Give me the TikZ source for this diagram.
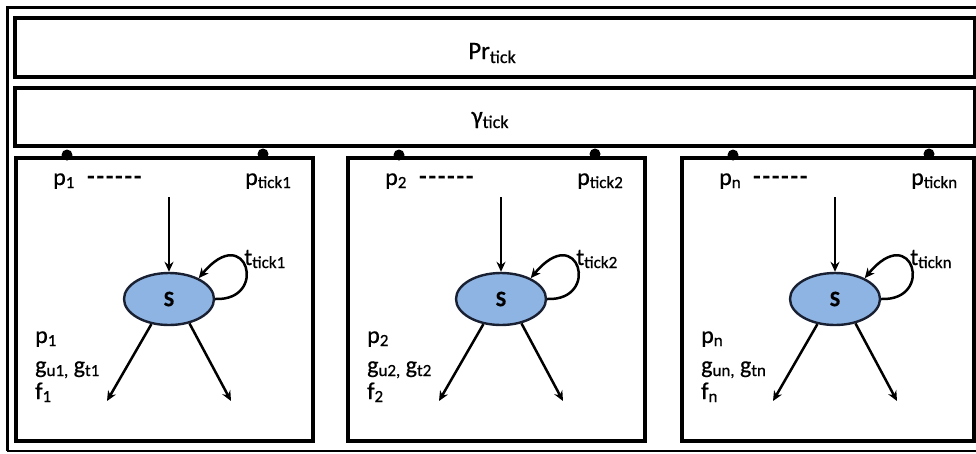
\documentclass[tikz,border=0pt]{standalone}
\usepackage{fontspec}
\setmainfont{Carlito}[FakeBold=0.6]
\usetikzlibrary{shapes.geometric,arrows.meta}
\definecolor{stateblue}{RGB}{142,180,227}
\definecolor{stateedge}{RGB}{25,32,50}
\newcommand\lsub[1]{\raisebox{-3pt}{\fontsize{17}{17}\selectfont #1}}
\newcommand\tsub[1]{\raisebox{-4pt}{\fontsize{18}{18}\selectfont #1}}
\newcommand\dashrow{\bfseries-\kern2pt-\kern2pt-\kern2pt-\kern2pt-\kern2pt-}
\begin{document}
\begin{tikzpicture}[x=1pt,y=-1pt,
  frame/.style={line width=3.4pt},
  lbl/.style={inner sep=0pt, anchor=base west, font=\fontsize{24}{28}\selectfont},
  toplbl/.style={inner sep=0pt, anchor=base, font=\fontsize{25}{29}\selectfont},
  state/.style={ellipse, draw=stateedge, line width=2.4pt, fill=stateblue, minimum width=90pt, minimum height=52pt, inner sep=0pt, font=\fontsize{22}{26}\selectfont\bfseries},
  arr/.style={line width=2.5pt, -{Stealth[length=10pt,width=9pt]}},
  dot/.style={circle, fill=black, inner sep=0pt, minimum size=11pt}]
\useasboundingbox (0,0) rectangle (976,453);
\fill[white] (0,0) rectangle (976,453);
\draw[line width=3pt] (990,7) -- (7,7) -- (7,451);
\draw[line width=1.2pt] (7,451) -- (990,451);
\draw[frame] (15,18) rectangle (975,77);
\draw[frame] (15,88) rectangle (975,146);
\node[toplbl] (pr) at (492,59) {Pr\tsub{tick}};
\node[toplbl] (gam) at (490,124) {γ\tsub{tick}};
\foreach \i/\x/\w/\k in {1/16/297/1,2/348/297/2,3/682/292/n}{
\begin{scope}[shift={(\x,0)}]
 \draw[frame] (0,158) rectangle (\w,441);
 \node[dot] (dl\i) at (51,155) {};
 \node[dot] (dr\i) at (247,154) {};
 \node[lbl] (pa\i) at (37,185) {p\lsub{\k}};
 \node[lbl] (da\i) at (71,184) {\dashrow};
 \node[lbl] (pt\i) at (229,185) {p\lsub{tick\k}};
 \node[state] (s\i) at (153,299) {S};
 \coordinate (in\i) at (153,197);
 \coordinate (ol\i) at (91,401);
 \coordinate (or\i) at (215,401);
 \draw[arr] (in\i) -- (s\i.north);
 \draw[arr] (s\i.-125) -- (ol\i);
 \draw[arr] (s\i.-50) -- (or\i);
 \draw[arr] (s\i.east) .. controls +(54,2) and +(48,-58) .. (s\i.35);
 \node[lbl] (tt\i) at (228,265) {t\lsub{tick\k}};
 \node[lbl] (pb\i) at (19,343) {p\lsub{\k}};
 \node[lbl] (gb\i) at (19,373) {g\lsub{u\k,} g\lsub{t\k}};
 \node[lbl] (fb\i) at (19,399) {f\lsub{\k}};
\end{scope}}
\end{tikzpicture}
\end{document}
